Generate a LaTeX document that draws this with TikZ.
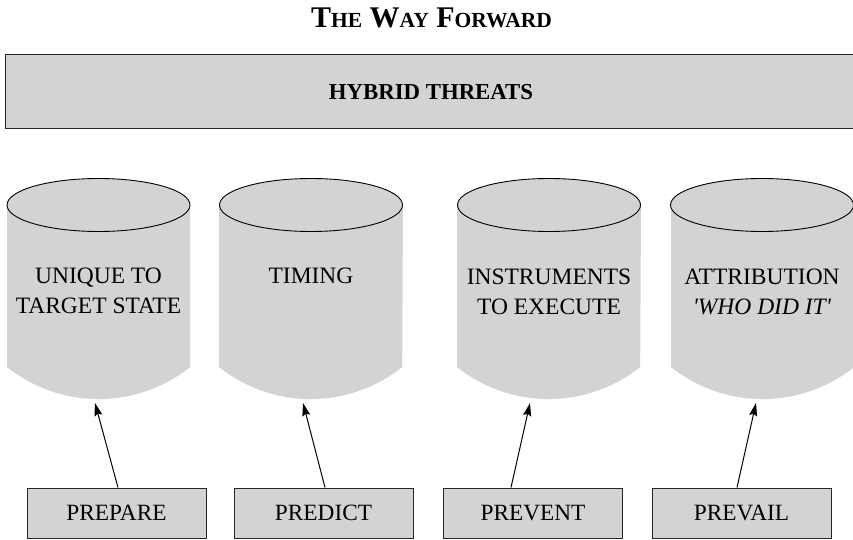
\documentclass[tikz,border=0pt]{standalone}
\usepackage{fontspec}
\setmainfont{Liberation Serif}
\usetikzlibrary{arrows.meta}
\definecolor{cylgray}{RGB}{209,211,212}
\begin{document}
\begin{tikzpicture}[x=1pt,y=-1pt,
  framebox/.style={draw=black!85, line width=1pt, fill=cylgray, inner sep=0pt},
  pbox/.style={framebox, minimum width=179pt, minimum height=50pt, text height=15.5pt, text depth=0pt, font=\fontsize{23.3}{26}\selectfont},
  cyltext/.style={anchor=north, inner sep=0pt, align=center, font=\fontsize{23.5}{30}\selectfont},
  cylbody/.style={fill=cylgray},
  cyltop/.style={draw=black, line width=0.9pt, fill=cylgray},
  arr/.style={draw=black, line width=1pt, -{Stealth[length=13pt,width=8pt,inset=2pt]}}
]
\useasboundingbox (0,0) rectangle (853,540);

% title
\node[anchor=base, inner sep=0pt] (title) at (431.5,27.5)
  {\bfseries\fontsize{30}{33}\selectfont T{\fontsize{21.5}{24}\selectfont HE} W{\fontsize{21.5}{24}\selectfont AY} F{\fontsize{21.5}{24}\selectfont ORWARD}};

% top banner
\node[framebox, minimum width=852pt, minimum height=74pt, font=\bfseries\fontsize{22.8}{25}\selectfont] (hybrid) at (431,92) {HYBRID THREATS};

% cylinders
\foreach \c/\l/\r in {98.5/7/190, 311/219/403, 549/457/641, 762/671/853}{
  \fill[cylbody] (\l,205) -- (\l,367) arc[start angle=128.6, end angle=51.4, radius=146.8] -- (\r,205) -- cycle;
  \draw[cyltop] (\c,205) ellipse[x radius=91.5, y radius=26.5];
}

\node[cyltext] (cyl1) at (98.5,267.5) {UNIQUE TO\\TARGET STATE};
\node[cyltext] (cyl2) at (311,267.5) {TIMING};
\node[cyltext] (cyl3) at (549,268.5) {INSTRUMENTS\\TO EXECUTE};
\node[cyltext] (cyl4) at (762,268.5) {ATTRIBUTION\\\textit{\textquotesingle WHO DID IT\textquotesingle}};

\coordinate (cyl1bot) at (95,403);
\coordinate (cyl2bot) at (303,403);
\coordinate (cyl3bot) at (530,403);
\coordinate (cyl4bot) at (756,403);

% bottom boxes
\node[pbox] (prepare) at (116.5,513) {PREPARE};
\node[pbox] (predict) at (323.5,513) {PREDICT};
\node[pbox] (prevent) at (533,513) {PREVENT};
\node[pbox] (prevail) at (741.5,513) {PREVAIL};

% arrows
\draw[arr] ([xshift=1.5pt]prepare.north) -- (cyl1bot);
\draw[arr] ([xshift=1.5pt]predict.north) -- (cyl2bot);
\draw[arr] ([xshift=-22pt]prevent.north) -- (cyl3bot);
\draw[arr] ([xshift=-4.5pt]prevail.north) -- (cyl4bot);
\end{tikzpicture}
\end{document}
